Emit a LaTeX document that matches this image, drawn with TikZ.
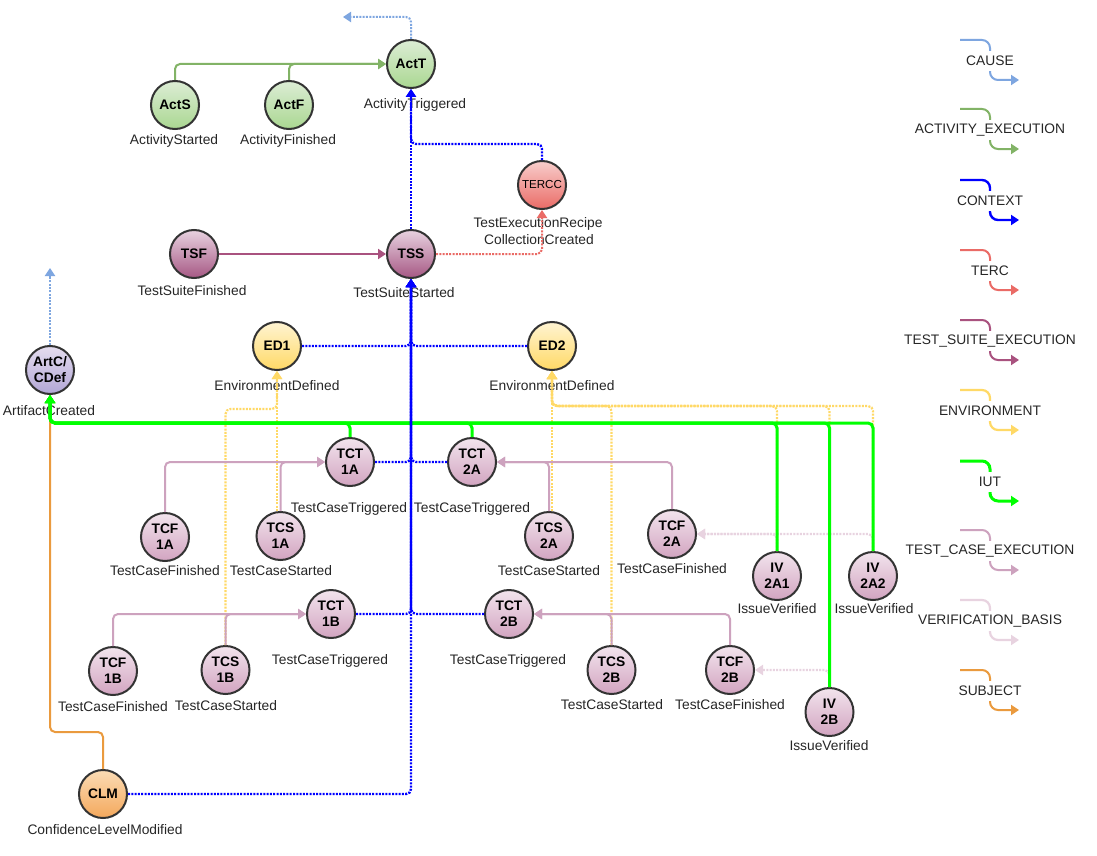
\documentclass[tikz,border=0pt]{standalone}
\usepackage{fontspec}
\setmainfont{Liberation Sans}
\usetikzlibrary{arrows.meta}
\definecolor{causec}{HTML}{7EA6E0}
\definecolor{actc}{HTML}{82B366}
\definecolor{ctxc}{HTML}{0000FF}
\definecolor{tercc}{HTML}{EA6B66}
\definecolor{tsc}{HTML}{A9527F}
\definecolor{envc}{HTML}{FFD966}
\definecolor{iutc}{HTML}{00FF00}
\definecolor{tcc}{HTML}{CDA2BE}
\definecolor{verc}{HTML}{E8D3E0}
\definecolor{subjc}{HTML}{EA9A3E}
\definecolor{strokec}{HTML}{333333}
\definecolor{labelc}{HTML}{262626}
\newcommand\evfont{\fontsize{13.8}{16}\selectfont\bfseries}
\newcommand\lblfont{\fontsize{13.8}{17}\selectfont}
\newcommand\legitem[4]{%
  \coordinate (#4a) at (960,#1-21);
  \coordinate (#4b) at (1019,#1+19);
  \draw[#2, rounded corners=8pt] (#4a) -- (990,#1-21) -- (990,#1+19) -- (#4b);
  \node[leglbl] (#4) at (990,#1) {#3};
}
\begin{document}
\begin{tikzpicture}[x=1pt,y=-1pt,
  ev/.style={circle, draw=strokec, line width=2pt, minimum size=48pt, inner sep=0pt, font=\evfont, align=center, text=black},
  grn/.style={ev, top color={rgb,255:red,220;green,237;blue,213}, bottom color={rgb,255:red,170;green,215;blue,145}},
  red/.style={ev, top color={rgb,255:red,248;green,206;blue,204}, bottom color={rgb,255:red,234;green,107;blue,102}},
  pur/.style={ev, top color={rgb,255:red,232;green,210;blue,224}, bottom color={rgb,255:red,166;green,88;blue,132}},
  tcn/.style={ev, top color={rgb,255:red,242;green,228;blue,237}, bottom color={rgb,255:red,210;green,164;blue,192}},
  yel/.style={ev, top color={rgb,255:red,255;green,244;blue,210}, bottom color={rgb,255:red,255;green,217;blue,102}},
  lav/.style={ev, top color={rgb,255:red,229;green,221;blue,239}, bottom color={rgb,255:red,178;green,166;blue,214}},
  ora/.style={ev, top color={rgb,255:red,251;green,220;blue,181}, bottom color={rgb,255:red,244;green,168;blue,92}},
  lbl/.style={font=\lblfont, text=labelc, anchor=base, inner sep=0pt},
  leglbl/.style={font=\lblfont, text=labelc, fill=white, inner sep=0pt, inner xsep=1pt, minimum height=20pt},
  tip/.style={-{Triangle[length=8pt,width=10pt]}},
  dots/.style={dash pattern=on 2pt off 1.3pt},
  causeL/.style={draw=causec, line width=2pt, tip},
  actL/.style={draw=actc, line width=2pt, tip},
  ctxL/.style={draw=ctxc, line width=2.4pt, tip},
  tercL/.style={draw=tercc, line width=2pt, tip},
  tsL/.style={draw=tsc, line width=2pt, tip},
  envL/.style={draw=envc, line width=2.2pt, tip},
  iutL/.style={draw=iutc, line width=3pt, tip},
  tcL/.style={draw=tcc, line width=2pt, tip},
  verL/.style={draw=verc, line width=2.2pt, tip},
  subjL/.style={draw=subjc, line width=2pt, tip},
  rc/.style={rounded corners=5pt}
]
\fill[white] (0,0) rectangle (1097,856);
\useasboundingbox (0,0) rectangle (1097,856);

% ---------- event nodes ----------
\node[grn] (ActT) at (411,64) {ActT};
\node[grn] (ActS) at (175,105) {ActS};
\node[grn] (ActF) at (289,105) {ActF};
\node[red, font=\fontsize{11.6}{14}\selectfont] (TERCC) at (542,185) {TERCC};
\node[pur] (TSF) at (194,254) {TSF};
\node[pur] (TSS) at (411,254) {TSS};
\node[yel] (ED1) at (277,346) {ED1};
\node[yel] (ED2) at (552,346) {ED2};
\node[lav] (ArtC) at (50,370) {ArtC/\\CDef};
\node[tcn] (TCT1A) at (350,462) {TCT\\1A};
\node[tcn] (TCT2A) at (472,462) {TCT\\2A};
\node[tcn] (TCF1A) at (165,537) {TCF\\1A};
\node[tcn] (TCS1A) at (280.5,536) {TCS\\1A};
\node[tcn] (TCS2A) at (549,536) {TCS\\2A};
\node[tcn] (TCF2A) at (672,534) {TCF\\2A};
\node[tcn] (IV2A1) at (777,576) {IV\\2A1};
\node[tcn] (IV2A2) at (873,576) {IV\\2A2};
\node[tcn] (TCT1B) at (331,614) {TCT\\1B};
\node[tcn] (TCT2B) at (509,614) {TCT\\2B};
\node[tcn] (TCF1B) at (113,671) {TCF\\1B};
\node[tcn] (TCS1B) at (225.5,670) {TCS\\1B};
\node[tcn] (TCS2B) at (611.5,670) {TCS\\2B};
\node[tcn] (TCF2B) at (730,670) {TCF\\2B};
\node[tcn] (IV2B) at (829.5,712) {IV\\2B};
\node[ora] (CLM) at (103,794) {CLM};

% ---------- labels ----------
\node[lbl] (lActT) at (415,109) {ActivityTriggered};
\node[lbl] (lActS) at (174,144) {ActivityStarted};
\node[lbl] (lActF) at (288,144) {ActivityFinished};
\node[lbl] (lTERCC1) at (538,227.5) {TestExecutionRecipe};
\node[lbl] (lTERCC2) at (539,244) {CollectionCreated};
\node[lbl] (lTSF) at (192,295) {TestSuiteFinished};
\node[lbl] (lTSS) at (404,297) {TestSuiteStarted};
\node[lbl] (lED1) at (277,390) {EnvironmentDefined};
\node[lbl] (lED2) at (552,390) {EnvironmentDefined};
\node[lbl] (lArtC) at (49,415) {ArtifactCreated};
\node[lbl] (lTCT1A) at (349,512) {TestCaseTriggered};
\node[lbl] (lTCT2A) at (472,512) {TestCaseTriggered};
\node[lbl] (lTCF1A) at (165,575) {TestCaseFinished};
\node[lbl] (lTCS1A) at (281,575) {TestCaseStarted};
\node[lbl] (lTCS2A) at (549,575) {TestCaseStarted};
\node[lbl] (lTCF2A) at (672,573) {TestCaseFinished};
\node[lbl] (lIV2A1) at (777,613) {IssueVerified};
\node[lbl] (lIV2A2) at (874,613) {IssueVerified};
\node[lbl] (lTCT1B) at (330,664) {TestCaseTriggered};
\node[lbl] (lTCT2B) at (508,664) {TestCaseTriggered};
\node[lbl] (lTCF1B) at (113,711) {TestCaseFinished};
\node[lbl] (lTCS1B) at (226,710) {TestCaseStarted};
\node[lbl] (lTCS2B) at (612,709) {TestCaseStarted};
\node[lbl] (lTCF2B) at (730,709) {TestCaseFinished};
\node[lbl] (lIV2B) at (829,750) {IssueVerified};
\node[lbl] (lCLM) at (105,834) {ConfidenceLevelModified};

% ---------- helper coordinates ----------
\coordinate (envA) at (0,409);
\coordinate (envB) at (0,406);
\coordinate (iutY) at (0,423);
\coordinate (subjY) at (0,732);
\coordinate (ctxY) at (0,144);
\coordinate (causeA) at (343,17);
\coordinate (causeB) at (50,268);

\begin{scope}[rc]
% ---------- ENVIRONMENT ----------
\draw[envL, dots] (TCS1A.north -| ED1.south) -- (ED1.south);
\draw[envL, dots] (TCS1B.north) -- (TCS1B.north |- envA) -| (ED1.south);
\draw[envL, dots] (TCS2A.north -| ED2.south) -- (ED2.south);
\draw[envL, dots] (TCS2B.north) -- (TCS2B.north |- envB) -| (ED2.south);
\draw[envL, dots] (IV2A1.north) -- (IV2A1.north |- envB) -| (ED2.south);
\draw[envL, dots] (IV2B.north) -- (IV2B.north |- envB) -| (ED2.south);
\draw[envL, dots] (IV2A2.north) -- (IV2A2.north |- envB) -| (ED2.south);

% ---------- VERIFICATION_BASIS ----------
\draw[verL, dots] (IV2A1.north) |- (TCF2A.east);
\draw[verL, dots] (IV2A2.north) |- (TCF2A.east);
\draw[verL, dots] (IV2B.north) |- (TCF2B.east);

% ---------- TEST_CASE_EXECUTION ----------
\draw[tcL] (TCF1A.north) |- (TCT1A.west);
\draw[tcL] (TCS1A.north) |- (TCT1A.west);
\draw[tcL] (TCS2A.north) |- (TCT2A.east);
\draw[tcL] (TCF2A.north) |- (TCT2A.east);
\draw[tcL] (TCF1B.north) |- (TCT1B.west);
\draw[tcL] (TCS1B.north) |- (TCT1B.west);
\draw[tcL] (TCS2B.north) |- (TCT2B.east);
\draw[tcL] (TCF2B.north) |- (TCT2B.east);

% ---------- SUBJECT ----------
\draw[subjL] (CLM.north) -- (CLM.north |- subjY) -| (ArtC.south);

% ---------- IUT ----------
\foreach \n in {TCT1A,TCT2A,IV2A1,IV2B,IV2A2}
  \draw[iutL] (\n.north) -- (\n.north |- iutY) -| (ArtC.south);

% ---------- CONTEXT ----------
\draw[ctxL, dots] (CLM.east) -| (TSS.south);
\draw[ctxL, dots] (ED1.east) -| (TSS.south);
\draw[ctxL, dots] (ED2.west) -| (TSS.south);
\draw[ctxL, dots] (TCT1A.east) -| (TSS.south);
\draw[ctxL, dots] (TCT2A.west) -| (TSS.south);
\draw[ctxL, dots] (TCT1B.east) -| (TSS.south);
\draw[ctxL, dots] (TCT2B.west) -| (TSS.south);
\draw[ctxL, dots] (TSS.north) -- (ActT.south);
\draw[ctxL, dots] (TERCC.north) -- (TERCC.north |- ctxY) -| (ActT.south);

% ---------- TERC ----------
\draw[tercL, dots] (TSS.east) -| (TERCC.south);

% ---------- TEST_SUITE_EXECUTION ----------
\draw[tsL] (TSF.east) -- (TSS.west);

% ---------- ACTIVITY_EXECUTION ----------
\draw[actL] (ActS.north) |- (ActT.west);
\draw[actL] (ActF.north) |- (ActT.west);

% ---------- CAUSE ----------
\draw[causeL, dots] (ActT.north) |- (causeA);
\draw[causeL, dots] (ArtC.north) -- (causeB);
\end{scope}

% ---------- legend ----------
\legitem{61}{causeL}{CAUSE}{legA}
\legitem{130}{actL}{ACTIVITY\_EXECUTION}{legB}
\legitem{201}{ctxL}{CONTEXT}{legC}
\legitem{271}{tercL}{TERC}{legD}
\legitem{341}{tsL}{TEST\_SUITE\_EXECUTION}{legE}
\legitem{411}{envL}{ENVIRONMENT}{legF}
\legitem{482}{iutL}{IUT}{legG}
\legitem{551}{tcL}{TEST\_CASE\_EXECUTION}{legH}
\legitem{621}{verL}{VERIFICATION\_BASIS}{legI}
\legitem{691}{subjL}{SUBJECT}{legJ}
\end{tikzpicture}
\end{document}
